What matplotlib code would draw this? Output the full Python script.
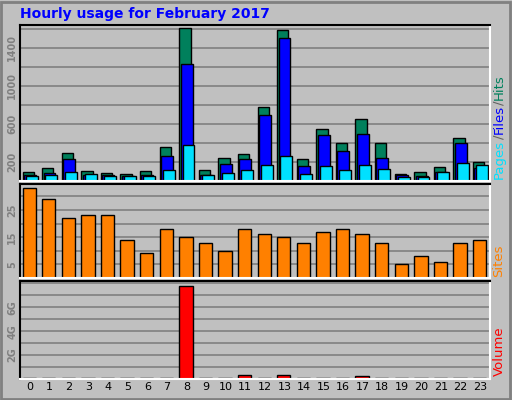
import numpy as np
import matplotlib
matplotlib.use("Agg")
import matplotlib.pyplot as plt

hours = list(range(24))
hits = [98, 140, 298, 109, 88, 77, 109, 362, 1604, 119, 246, 288,
        783, 1583, 235, 551, 404, 656, 404, 77, 98, 151, 456, 204]
files = [60, 84, 235, 60, 60, 56, 67, 267, 1235, 67, 183, 235,
         698, 1499, 161, 488, 319, 498, 246, 60, 56, 98, 404, 140]
pages = [56, 67, 98, 77, 56, 56, 56, 119, 383, 67, 88, 119,
         172, 267, 77, 161, 119, 172, 130, 46, 46, 98, 193, 172]
sites = [33, 29, 22, 23, 23, 14, 9, 18, 15, 13, 10, 18,
         16, 15, 13, 17, 18, 16, 13, 5, 8, 6, 13, 14]
volume_gb = [0.07, 0.07, 0.07, 0.07, 0.07, 0.07, 0.07, 0.07, 7.82, 0.07, 0.07, 0.375,
             0.07, 0.375, 0.07, 0.07, 0.07, 0.29, 0.07, 0.07, 0.07, 0.07, 0.07, 0.07]

W, H = 512, 400
fig = plt.figure(figsize=(W / 100, H / 100), dpi=100, facecolor="#C0C0C0")


def box(x0, y0, x1, y1):
    return fig.add_axes([x0 / W, 1 - y1 / H, (x1 - x0) / W, (y1 - y0) / H])


def style(ax, ymax, ticks, labels, grid):
    ax.set_facecolor("#C0C0C0")
    ax.set_xlim(-0.5, 23.5)
    ax.set_ylim(0, ymax)
    for g in grid:
        ax.axhline(g, color="#808080", lw=1.2, zorder=0)
    ax.set_yticks(ticks)
    ax.set_yticklabels(labels, rotation=90, va="center", color="#808080",
                       fontsize=7, fontweight="bold")
    ax.tick_params(length=0, pad=2)
    for s in ax.spines.values():
        s.set_color("white")
        s.set_linewidth(1.5)
    ax.spines["left"].set_color("black")
    ax.spines["top"].set_color("black")


x = np.array(hours)
ax1 = box(20, 25, 490, 181)
style(ax1, 1640, [200, 600, 1000, 1400], ["200", "600", "1000", "1400"],
      range(200, 1601, 200))
ax1.bar(x - 0.37, hits, width=0.58, align="edge", color="#00805C", edgecolor="black", lw=1)
ax1.bar(x - 0.30, files, width=0.61, align="edge", color="#0000FF", edgecolor="black", lw=1)
ax1.bar(x - 0.20, pages, width=0.61, align="edge", color="#00E0FF", edgecolor="black", lw=1)
ax1.set_xticks([])

ax2 = box(20, 184, 490, 278)
style(ax2, 34.5, [5, 15, 25], ["5", "15", "25"], range(5, 31, 5))
ax2.bar(x - 0.37, sites, width=0.68, align="edge", color="#FF8000", edgecolor="black", lw=1)
ax2.set_xticks([])

ax3 = box(20, 281, 490, 379)
style(ax3, 8.2, [2, 4, 6], ["2G", "4G", "6G"], range(1, 9))
ax3.bar(x - 0.37, volume_gb, width=0.68, align="edge", color="#FF0000", edgecolor="black", lw=1)
ax3.set_xticks(hours)
ax3.set_xticklabels([str(h) for h in hours], fontsize=8)

fig.text(20 / W, 1 - 14 / H, "Hourly usage for February 2017", color="#0000FF",
         fontsize=10, fontweight="bold", va="center")

fig.canvas.draw()
renderer = fig.canvas.get_renderer()


# right side labels, stacked bottom-to-top, measured so they don't collide
def vlabel(parts, ybottom):
    y = ybottom
    for txt, col in parts:
        t = fig.text(499 / W, 1 - y / H, txt, color=col, rotation=90,
                     fontsize=9.5, ha="center", va="bottom")
        y -= t.get_window_extent(renderer).height + 0.5

vlabel([("Pages", "#00E0FF"), ("/", "#606060"), ("Files", "#0000FF"),
        ("/", "#606060"), ("Hits", "#00805C")], 179)
vlabel([("Sites", "#FF8000")], 277)
vlabel([("Volume", "#FF0000")], 376)

# outer frame
fig.patches.append(plt.Rectangle((0.002, 0.002), 0.994, 0.994, transform=fig.transFigure,
                                 fill=False, edgecolor="#808080", lw=2))

fig.savefig("out.png", dpi=100, facecolor=fig.get_facecolor())
